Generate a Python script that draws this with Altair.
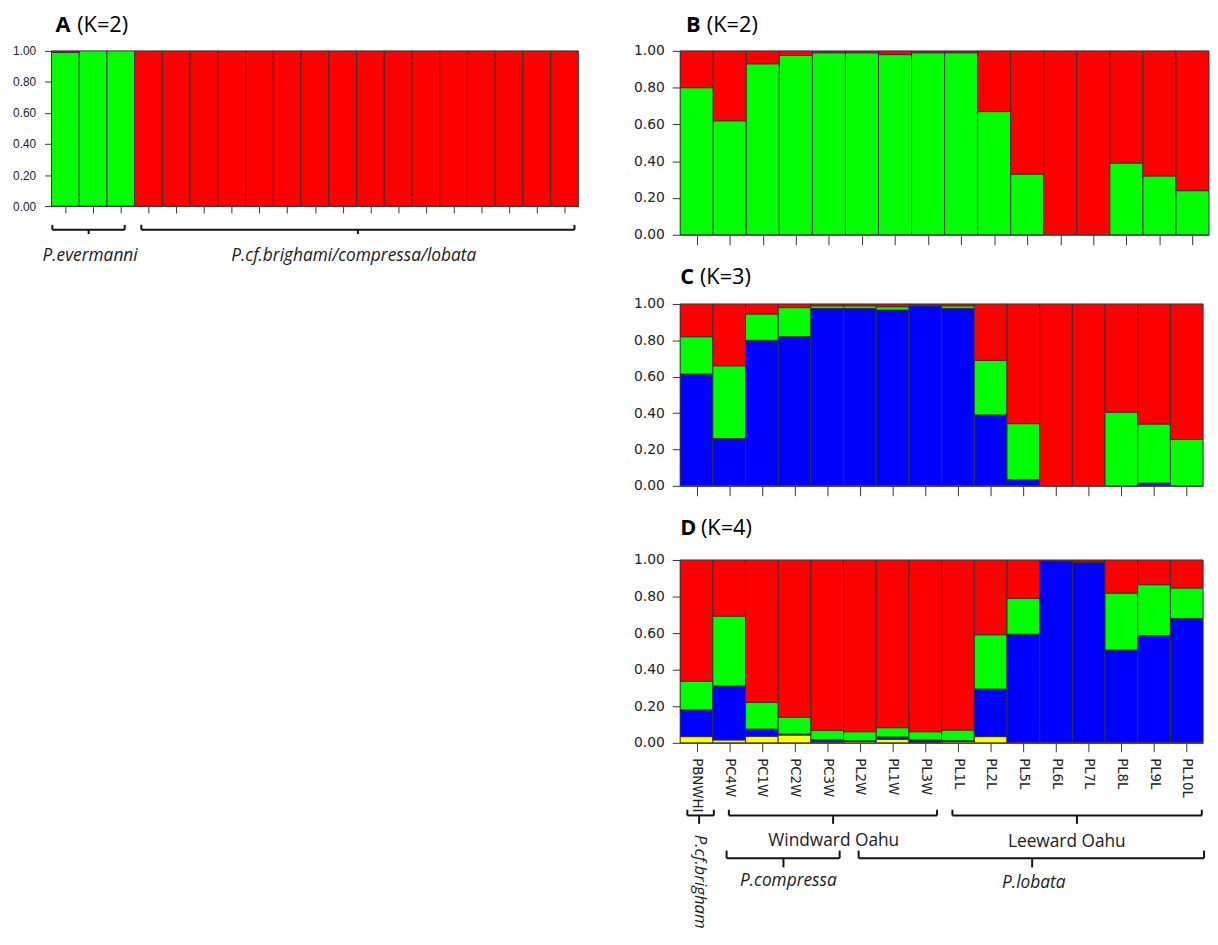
import json
import altair as alt
import pandas as pd

RED = "#ff0000"
GREEN = "#00ff00"
BLUE = "#0000ff"
YELLOW = "#ffff00"

# ---------------- data ----------------
# Panel A (K=2): 19 individuals, first three P.evermanni
a_green = [0.99, 1.00, 1.00, 0.00, 0.00, 0.00, 0.00, 0.00, 0.00, 0.00,
           0.00, 0.00, 0.00, 0.00, 0.00, 0.00, 0.00, 0.00, 0.00]
a_red = [0.01, 0.00, 0.00, 1.00, 1.00, 1.00, 1.00, 1.00, 1.00, 1.00,
         1.00, 1.00, 1.00, 1.00, 1.00, 1.00, 1.00, 1.00, 1.00]

# Populations for panels B-D
populations = ["PBNWHI", "PC4W", "PC1W", "PC2W", "PC3W", "PL2W", "PL1W", "PL3W",
               "PL1L", "PL2L", "PL5L", "PL6L", "PL7L", "PL8L", "PL9L", "PL10L"]

# Panel B (K=2)
b_green = [0.80, 0.62, 0.93, 0.975, 0.99, 0.99, 0.98, 0.99,
           0.99, 0.67, 0.33, 0.00, 0.00, 0.39, 0.32, 0.24]
b_red = [0.20, 0.38, 0.07, 0.025, 0.01, 0.01, 0.02, 0.01,
         0.01, 0.33, 0.67, 1.00, 1.00, 0.61, 0.68, 0.76]

# Panel C (K=3)
c_blue = [0.615, 0.26, 0.80, 0.82, 0.975, 0.975, 0.967, 0.99,
          0.975, 0.39, 0.035, 0.00, 0.00, 0.00, 0.015, 0.00]
c_green = [0.205, 0.40, 0.145, 0.16, 0.015, 0.015, 0.018, 0.005,
           0.015, 0.30, 0.307, 0.00, 0.00, 0.405, 0.325, 0.255]
c_red = [0.18, 0.34, 0.055, 0.02, 0.01, 0.01, 0.015, 0.005,
         0.01, 0.31, 0.658, 1.00, 1.00, 0.595, 0.66, 0.745]

# Panel D (K=4)
d_yellow = [0.034, 0.016, 0.036, 0.043, 0.005, 0.008, 0.020, 0.004,
            0.008, 0.034, 0.00, 0.00, 0.00, 0.00, 0.00, 0.00]
d_blue = [0.147, 0.295, 0.039, 0.005, 0.012, 0.003, 0.012, 0.012,
          0.004, 0.26, 0.594, 0.995, 0.987, 0.508, 0.587, 0.68]
d_green = [0.156, 0.382, 0.146, 0.092, 0.051, 0.050, 0.051, 0.045,
           0.058, 0.297, 0.196, 0.00, 0.005, 0.311, 0.278, 0.167]
d_red = [0.663, 0.307, 0.779, 0.860, 0.932, 0.939, 0.917, 0.939,
         0.930, 0.409, 0.210, 0.005, 0.008, 0.181, 0.135, 0.153]

# Bracket annotations: (start, end, stem) in bar units; levels in axis units
a_brackets = [(0.03, 2.64, 1.34), (3.24, 18.86, 11.05)]
a_bracket_levels = (-0.121, -0.153, -0.180)
a_labels = ["P.evermanni", "P.cf.brighami/compressa/lobata"]
a_label_x = [1.39, 10.9]
a_label_y = [-0.322, -0.322]

d_brackets_1 = [(0.22, 1.03, 0.58), (1.49, 7.86, 4.68), (8.33, 15.96, 12.14)]
d_levels_1 = (-0.366, -0.397, -0.443)
d_brackets_2 = [(1.42, 4.88, 3.16), (5.46, 16.03, 10.77)]
d_levels_2 = (-0.589, -0.631, -0.681)
d_region_labels = ["Windward Oahu", "Leeward Oahu"]
d_region_x = [4.70, 11.83]
d_region_y = [-0.536, -0.545]
d_species_labels = ["P.compressa", "P.lobata"]
d_species_x = [3.31, 10.82]
d_species_y = [-0.755, -0.768]
d_rot_label = ["P.cf.brighami"]
d_rot_x = [0.62]
d_rot_y = [-0.503]

TEXT_FONT = "Open Sans"
AXIS_FONT = "DejaVu Sans"


def stack_df(components):
    rows = []
    n = len(components[0][1])
    for i in range(n):
        base = 0.0
        for color, vals in components:
            v = vals[i]
            if v > 0:
                rows.append({"x": i, "x2": i + 1, "y": base,
                             "y2": min(base + v, 1.0), "col": color})
            base += v
    return pd.DataFrame(rows)


def bracket_df(brackets, levels):
    top, mid, bot = levels
    rows = []
    for a, b, s in brackets:
        rows.append({"x": a, "x2": b, "y": mid, "y2": mid})
        rows.append({"x": a, "x2": a, "y": top, "y2": mid})
        rows.append({"x": b, "x2": b, "y": top, "y2": mid})
        rows.append({"x": s, "x2": s, "y": mid, "y2": bot})
    return pd.DataFrame(rows)


def panel(components, n, width, height, y_axis, x_axis, title_letter, title_k,
          letter_dx, k_dx, title_dy, brackets=None, texts=None, rot=None):
    xs = alt.Scale(domain=[0, n], nice=False, zero=False)
    ys = alt.Scale(domain=[0, 1], nice=False, zero=False)

    def X(f):
        return alt.X(f, scale=xs, axis=x_axis)

    def Y(f):
        return alt.Y(f, scale=ys, axis=y_axis)

    layers = []
    layers.append(
        alt.Chart(stack_df(components)).mark_bar(stroke="#333333", strokeWidth=1).encode(
            x=X("x:Q"), x2="x2:Q", y=Y("y:Q"), y2="y2:Q",
            color=alt.Color("col:N", scale=None),
        )
    )
    if brackets is not None:
        for df in brackets:
            layers.append(
                alt.Chart(df).mark_rule(color="#111111", strokeWidth=2).encode(
                    x=X("x:Q"), x2="x2:Q", y=Y("y:Q"), y2="y2:Q"
                )
            )
    if texts is not None:
        for df, style in texts:
            layers.append(
                alt.Chart(df).mark_text(font=TEXT_FONT, fontSize=17.5, fontStyle=style,
                                        color="#1a1a1a", align="center",
                                        baseline="middle").encode(
                    x=X("x:Q"), y=Y("y:Q"), text="label:N"
                )
            )
    if rot is not None:
        layers.append(
            alt.Chart(rot).mark_text(font=TEXT_FONT, fontSize=17, fontStyle="italic",
                                     color="#1a1a1a", align="left", baseline="middle",
                                     angle=90, limit=96, ellipsis="\u200b").encode(
                x=X("x:Q"), y=Y("y:Q"), text="label:N"
            )
        )
    tdf = pd.DataFrame({"letter": [title_letter], "k": [title_k]})
    layers.append(
        alt.Chart(tdf).mark_text(font=TEXT_FONT, fontSize=22, fontWeight="bold",
                                 color="#000000", align="left", baseline="middle").encode(
            x=alt.value(letter_dx), y=alt.value(title_dy), text="letter:N"
        )
    )
    layers.append(
        alt.Chart(tdf).mark_text(font=TEXT_FONT, fontSize=22, color="#000000",
                                 align="left", baseline="middle").encode(
            x=alt.value(k_dx), y=alt.value(title_dy), text="k:N"
        )
    )
    return alt.layer(*layers).properties(width=width, height=height)


def y_axis(font, size, tick, pad, extent):
    return alt.Axis(values=[0, 0.2, 0.4, 0.6, 0.8, 1.0], format=".2f", title=None,
                    grid=False, labelFont=font, labelFontSize=size, labelColor="#222222",
                    tickSize=tick, labelPadding=pad, tickColor="#333333",
                    domainColor="#333333", minExtent=extent, labelFlush=False)


def x_axis(n, tick, labels=False):
    vals = [i + 0.5 for i in range(n)]
    if not labels:
        return alt.Axis(values=vals, labels=False, title=None, grid=False,
                        tickSize=tick, tickColor="#333333", domainColor="#333333")
    expr = json.dumps(populations) + "[floor(datum.value)]"
    return alt.Axis(values=vals, labelExpr=expr, title=None, grid=False,
                    tickSize=tick, tickColor="#333333", domainColor="#333333",
                    labelAngle=90, labelAlign="left", labelBaseline="middle",
                    labelPadding=6, labelFont=AXIS_FONT, labelFontSize=13.5,
                    labelColor="#222222", labelOverlap=False, labelFlush=False)


# Panel A
a_br = bracket_df(a_brackets, a_bracket_levels)
a_txt = pd.DataFrame({"x": a_label_x, "y": a_label_y, "label": a_labels})
pA = panel([(GREEN, a_green), (RED, a_red)], 19, 533, 157,
           y_axis("Liberation Sans", 12, 7, 9, 39), x_axis(19, 7),
           "A", "(K=2)", 4, 26, -26,
           brackets=[a_br], texts=[(a_txt, "italic")])

# Panel B
pB = panel([(GREEN, b_green), (RED, b_red)], 16, 535, 186,
           y_axis(AXIS_FONT, 14, 8, 8, 48), x_axis(16, 10),
           "B", "(K=2)", 6, 27, -26)

# Panel C
pC = panel([(BLUE, c_blue), (GREEN, c_green), (RED, c_red)], 16, 529, 184,
           y_axis(AXIS_FONT, 14, 8, 8, 54), x_axis(16, 10),
           "C", "(K=3)", 0, 20, -27)

# Panel D
d_br1 = bracket_df(d_brackets_1, d_levels_1)
d_br2 = bracket_df(d_brackets_2, d_levels_2)
d_reg = pd.DataFrame({"x": d_region_x, "y": d_region_y, "label": d_region_labels})
d_sp = pd.DataFrame({"x": d_species_x, "y": d_species_y, "label": d_species_labels})
d_rot = pd.DataFrame({"x": d_rot_x, "y": d_rot_y, "label": d_rot_label})
pD = panel([(YELLOW, d_yellow), (BLUE, d_blue), (GREEN, d_green), (RED, d_red)], 16, 529, 185,
           y_axis(AXIS_FONT, 14, 8, 8, 54), x_axis(16, 9, labels=True),
           "D", "(K=4)", 0, 21, -32,
           brackets=[d_br1, d_br2], texts=[(d_reg, "normal"), (d_sp, "italic")], rot=d_rot)

right = alt.vconcat(pB, pC, pD, spacing=21)
chart = alt.hconcat(pA, right, spacing=48).properties(
    padding={"left": 4, "top": 1, "right": 0, "bottom": 0}
).configure_view(stroke=None)

chart.save("out.html", embed_options={"renderer": "svg", "actions": False})
